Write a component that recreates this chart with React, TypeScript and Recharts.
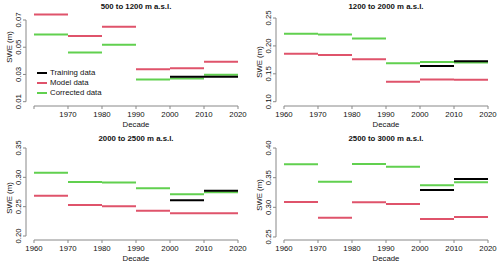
import { LineChart, Line, XAxis, YAxis, ReferenceLine } from 'recharts';

const decades = [1960, 1970, 1980, 1990, 2000, 2010];
const xTicks = [1960, 1970, 1980, 1990, 2000, 2010, 2020];

const titles = ['500 to 1200 m a.s.l.', '1200 to 2000 m a.s.l.', '2000 to 2500 m a.s.l.', '2500 to 3000 m a.s.l.'];

// SWE (m) per decade
const model500 = [0.0741, 0.0583, 0.0651, 0.0339, 0.0346, 0.0393];
const corrected500 = [0.0593, 0.0461, 0.0519, 0.0263, 0.027, 0.0297];
const training500 = [null, null, null, null, 0.0283, 0.0283];
const yTicks500 = [0.01, 0.03, 0.05, 0.07];

const model1200 = [0.1859, 0.1835, 0.1759, 0.1359, 0.14, 0.1394];
const corrected1200 = [0.2218, 0.2206, 0.2135, 0.1688, 0.1712, 0.1703];
const training1200 = [null, null, null, null, 0.1641, 0.1726];
const yTicks1200 = [0.1, 0.15, 0.2, 0.25];

const model2000 = [0.2688, 0.253, 0.2506, 0.2432, 0.2386, 0.2386];
const corrected2000 = [0.308, 0.292, 0.291, 0.2813, 0.271, 0.2745];
const training2000 = [null, null, null, null, 0.2608, 0.2773];
const yTicks2000 = [0.2, 0.25, 0.3, 0.35];

const model2500 = [0.309, 0.2826, 0.3084, 0.3056, 0.2803, 0.2837];
const corrected2500 = [0.3725, 0.3433, 0.373, 0.3685, 0.3371, 0.3421];
const training2500 = [null, null, null, null, 0.3292, 0.3478];
const yTicks2500 = [0.25, 0.3, 0.35, 0.4];

const RED = '#DF536B';
const GREEN = '#61D04F';
const BLACK = '#000000';
const AXIS = '#888888';
const TEXT = '#111111';
const FONT = '"Liberation Sans", Arial, sans-serif';
const FS = 7.8;

const xDomain = [1957.65, 2022.35];

// one row per segment end, with a null row to break the line between decades
function segments(values) {
  const rows = [];
  values.forEach((v, i) => {
    if (v == null) return;
    const start = decades[i];
    rows.push({ x: start, v }, { x: start + 10, v }, { x: start + 10, v: null });
  });
  return rows;
}

const panels = [
  { title: titles[0], model: model500, corrected: corrected500, training: training500, yTicks: yTicks500, yDomain: [0.00684, 0.07514], bottom: 106, ylabY: 47, skipFirst: true, legend: true },
  { title: titles[1], model: model1200, corrected: corrected1200, training: training1200, yTicks: yTicks1200, yDomain: [0.0923, 0.259], bottom: 106, ylabY: 62 },
  { title: titles[2], model: model2000, corrected: corrected2000, training: training2000, yTicks: yTicks2000, yDomain: [0.1932, 0.3551], bottom: 108, ylabY: 66 },
  { title: titles[3], model: model2500, corrected: corrected2500, training: training2500, yTicks: yTicks2500, yDomain: [0.2449, 0.4051], bottom: 108, ylabY: 63 },
];

const XTick = ({ x, y, payload, skipFirst }) => (
  <g>
    <line x1={x} y1={y} x2={x} y2={y + 3} stroke={AXIS} />
    {!(skipFirst && payload.value === 1960) && (
      <text x={x} y={y + 10.5} textAnchor="middle" fontSize={FS} fontFamily={FONT} fill={TEXT}>
        {payload.value}
      </text>
    )}
  </g>
);

const YTick = ({ x, y, payload }) => (
  <g>
    <line x1={x} y1={y} x2={x - 3} y2={y} stroke={AXIS} />
    <text
      x={x - 4.5}
      y={y}
      transform={`rotate(-90 ${x - 4.5} ${y})`}
      textAnchor="middle"
      fontSize={FS}
      fontFamily={FONT}
      fill={TEXT}
    >
      {payload.value.toFixed(2)}
    </text>
  </g>
);

const Legend500 = () => (
  <div style={{ position: 'absolute', left: 37, top: 67.5, fontSize: FS, fontFamily: FONT, color: TEXT }}>
    {[['Training data', BLACK], ['Model data', RED], ['Corrected data', GREEN]].map(([name, col]) => (
      <div key={name} style={{ display: 'flex', alignItems: 'center', height: 10 }}>
        <div style={{ width: 10, height: 2, background: col, marginRight: 3 }} />
        <span>{name}</span>
      </div>
    ))}
  </div>
);

function Panel({ p }) {
  const last = p.yTicks[p.yTicks.length - 1];
  return (
    <div style={{ position: 'relative', width: 250, height: 132 }}>
      <LineChart width={250} height={132} margin={{ top: 13, right: 4, bottom: 0, left: 0 }}>
        <XAxis
          type="number"
          dataKey="x"
          domain={xDomain}
          ticks={xTicks}
          interval={0}
          height={132 - p.bottom}
          tickSize={0}
          tickMargin={0}
          tickLine={false}
          axisLine={false}
          allowDataOverflow
          tick={(props) => <XTick {...props} skipFirst={p.skipFirst} />}
          label={{
            content: () => (
              <text x={136} y={p.bottom + 21} textAnchor="middle" fontSize={FS} fontFamily={FONT} fill={TEXT}>
                Decade
              </text>
            ),
          }}
        />
        <YAxis
          type="number"
          domain={p.yDomain}
          ticks={p.yTicks}
          interval={0}
          width={26}
          tickSize={0}
          tickMargin={0}
          tickLine={false}
          axisLine={false}
          allowDataOverflow
          tick={(props) => <YTick {...props} />}
          label={{
            content: () => (
              <text
                x={12}
                y={p.ylabY}
                transform={`rotate(-90 12 ${p.ylabY})`}
                textAnchor="middle"
                fontSize={FS}
                fontFamily={FONT}
                fill={TEXT}
              >
                SWE (m)
              </text>
            ),
          }}
        />
        <ReferenceLine
          segment={[{ x: xDomain[0], y: p.yTicks[0] }, { x: xDomain[0], y: last }]}
          stroke={AXIS}
          ifOverflow="visible"
        />
        <ReferenceLine
          segment={[{ x: 1960, y: p.yDomain[0] }, { x: 2020, y: p.yDomain[0] }]}
          stroke={AXIS}
          ifOverflow="visible"
        />
        <Line data={segments(p.model)} dataKey="v" stroke={RED} strokeWidth={2} dot={false} activeDot={false} connectNulls={false} isAnimationActive={false} />
        <Line data={segments(p.corrected)} dataKey="v" stroke={GREEN} strokeWidth={2} dot={false} activeDot={false} connectNulls={false} isAnimationActive={false} />
        <Line data={segments(p.training)} dataKey="v" stroke={BLACK} strokeWidth={2} dot={false} activeDot={false} connectNulls={false} isAnimationActive={false} />
      </LineChart>
      <div
        style={{
          position: 'absolute',
          left: 26,
          top: 0,
          width: 220,
          textAlign: 'center',
          lineHeight: '13px',
          fontSize: FS,
          fontWeight: 'bold',
          fontFamily: FONT,
          color: TEXT,
        }}
      >
        {p.title}
      </div>
      {p.legend && <Legend500 />}
    </div>
  );
}

export default function App() {
  return (
    <div
      style={{
        position: 'absolute',
        left: 0,
        top: 0,
        width: 500,
        height: 264,
        background: '#fff',
        display: 'flex',
        flexWrap: 'wrap',
      }}
    >
      {panels.map((p) => (
        <Panel key={p.title} p={p} />
      ))}
    </div>
  );
}
